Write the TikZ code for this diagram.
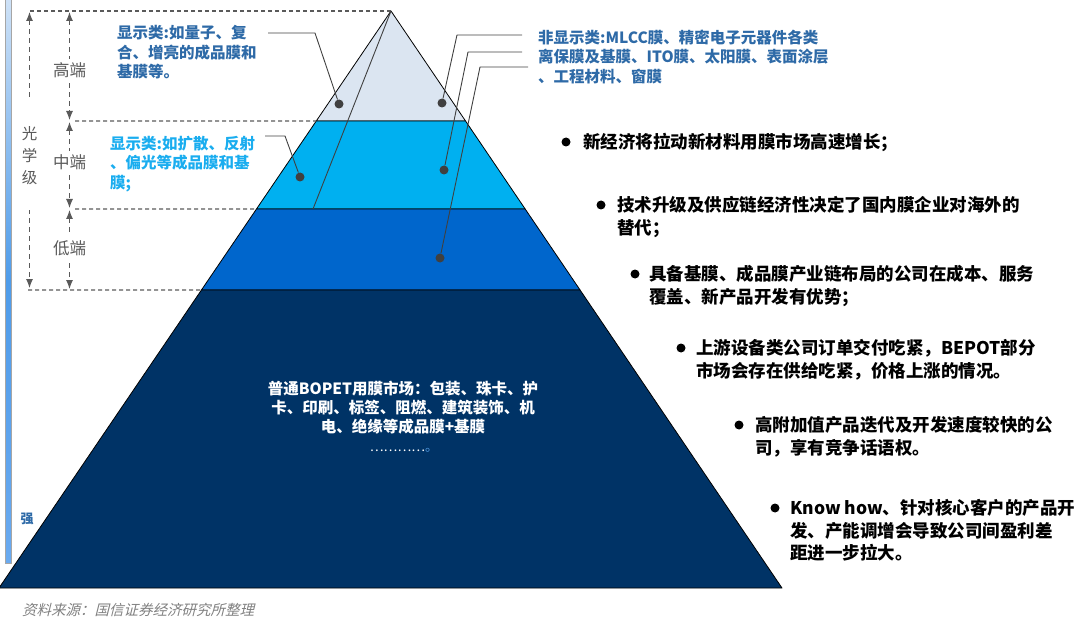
\documentclass[tikz,border=0pt]{standalone}
\usepackage{fontspec}
\setmainfont{Noto Sans CJK SC}
\newfontfamily\srcfont[FakeSlant=0.25]{Noto Sans CJK SC}
\usetikzlibrary{arrows.meta,calc}

\definecolor{topfill}{HTML}{DBE5F1}
\definecolor{midfill}{HTML}{00B0F0}
\definecolor{lowfill}{HTML}{0066CC}
\definecolor{basefill}{HTML}{003366}
\definecolor{dispblue}{HTML}{2E6AA7}
\definecolor{dispcyan}{HTML}{1AADEF}
\definecolor{guidegray}{HTML}{5A5A5A}
\definecolor{dotgray}{HTML}{404040}
\definecolor{bartop}{HTML}{CFE2F7}
\definecolor{barmid}{HTML}{4F9CEA}
\definecolor{barbot}{HTML}{6AAAF0}

\begin{document}
\begin{tikzpicture}[x=1pt,y=-1pt
	,>={Latex[length=9pt,width=7pt]}
	,line join=round
	]
  \tikzstyle{every node}=[inner sep=0pt]
  \tikzstyle{layer}=[draw=black,line width=0.8pt]
  \tikzstyle{guide}=[draw=guidegray,line width=1.1pt,dash pattern=on 4pt off 3pt]
  \tikzstyle{dimarrow}=[<->,draw=guidegray,line width=1.1pt,dash pattern=on 5pt off 4pt]
  \tikzstyle{level}=[fill=white,text=guidegray,inner sep=4pt
  ,font=\fontsize{16.5}{20}\selectfont]
  \tikzstyle{pdot}=[circle,fill=dotgray,minimum size=9pt]
  \tikzstyle{leader}=[draw=dotgray,line width=0.9pt]
  \tikzstyle{callout}=[anchor=north west,align=left
  ,font=\fontsize{15.5}{19.5}\selectfont\bfseries]
  \tikzstyle{bdot}=[circle,fill=black,minimum size=9pt]
  \tikzstyle{btext}=[anchor=north west,align=left
  ,font=\fontsize{17.5}{22.5}\selectfont\bfseries]

  \useasboundingbox (0,0) rectangle (1080,623);

  % strength bar
  \shade[top color=bartop,bottom color=barbot,middle color=barmid]
  (5,-2) rectangle (11,563);
  \draw[gray!70,line width=0.8pt] (5,-2) rectangle (11,563);
  \node[text=dispblue,font=\fontsize{13}{13}\selectfont\bfseries] (strong) at (27,519) {强};

  % pyramid
  \coordinate (apex) at (391,11);
  \coordinate (bl) at (-1,588);
  \coordinate (br) at (782,588);
  \coordinate (l1) at ($(apex)!0.1906!(bl)$);
  \coordinate (r1) at ($(apex)!0.1906!(br)$);
  \coordinate (l2) at ($(apex)!0.3432!(bl)$);
  \coordinate (r2) at ($(apex)!0.3432!(br)$);
  \coordinate (l3) at ($(apex)!0.4835!(bl)$);
  \coordinate (r3) at ($(apex)!0.4835!(br)$);

  \filldraw[layer,fill=topfill] (apex) -- (l1) -- (r1) -- cycle;
  \filldraw[layer,fill=midfill] (l1) -- (l2) -- (r2) -- (r1) -- cycle;
  \filldraw[layer,fill=lowfill] (l2) -- (l3) -- (r3) -- (r2) -- cycle;
  \filldraw[layer,fill=basefill] (l3) -- (bl) -- (br) -- (r3) -- cycle;

  % guides
  \coordinate (g0) at (30,11);
  \coordinate (g1) at (75,121);
  \coordinate (g2) at (75,209);
  \coordinate (g3) at (28,290);
  \draw[guide] (g0) -- (apex);
  \draw[guide] (g1) -- (l1);
  \draw[guide] (g2) -- (l2);
  \draw[guide] (g3) -- (l3);

  % levels
  \coordinate (hi0) at (69.5,12);
  \coordinate (hi1) at (69.5,120);
  \coordinate (mi0) at (69.5,122);
  \coordinate (mi1) at (69.5,208);
  \coordinate (lo0) at (69.5,210);
  \coordinate (lo1) at (69.5,289);
  \draw[dimarrow] (hi0) -- node[level,pos=0.54] (high) {高端} (hi1);
  \draw[dimarrow] (mi0) -- node[level,pos=0.47] (mid) {中端} (mi1);
  \draw[dimarrow] (lo0) -- node[level,pos=0.48] (low) {低端} (lo1);

  \coordinate (op0) at (29.5,12);
  \coordinate (op1) at (29.5,288);
  \draw[dimarrow] (op0) -- node[level,inner ysep=25pt,pos=0.52,align=center
  ,font=\fontsize{15.5}{22}\selectfont] (optic) {光\\学\\级} (op1);

  % callouts
  \node[callout,text=dispblue] (dispq) at (117,25.5)
  {显示类:如量子、复\\合、增亮的成品膜和\\基膜等。};
  \node[callout,text=dispcyan] (dispd) at (110,135.5)
  {显示类:如扩散、反射\\、偏光等成品膜和基\\膜;};
  \node[callout,text=dispblue] (nondisp) at (538,29.5)
  {非显示类:MLCC膜、精密电子元器件各类\\离保膜及基膜、ITO膜、太阳膜、表面涂层\\、工程材料、窗膜};

  \node[pdot] (dq) at (339,104) {};
  \node[pdot] (dd) at (300,177) {};
  \node[pdot] (nd1) at (442,103) {};
  \node[pdot] (nd2) at (444,170) {};
  \node[pdot] (nd3) at (440,258) {};

  \coordinate (qa) at (268,33);
  \coordinate (qb) at (315,33);
  \coordinate (da) at (265,136);
  \coordinate (db) at (285,136);
  \coordinate (na1) at (522,35);
  \coordinate (nb1) at (457,35);
  \coordinate (na2) at (522,52);
  \coordinate (nb2) at (468,52);
  \coordinate (na3) at (528,67);
  \coordinate (nb3) at (480,67);
  \coordinate (cut) at (313,209);

  \draw[leader] (qa) -- (qb) -- (dq);
  \draw[leader] (da) -- (db) -- (dd);
  \draw[leader] (na1) -- (nb1) -- (nd1);
  \draw[leader] (na2) -- (nb2) -- (nd2);
  \draw[leader] (na3) -- (nb3) -- (nd3);
  \draw[leader] (apex) -- (cut);

  % base text
  \node[align=center,text=white,font=\fontsize{15.5}{19}\selectfont\bfseries] (bopet) at (403,408)
  {普通BOPET用膜市场：包装、珠卡、护\\卡、印刷、标签、阻燃、建筑装饰、机\\电、绝缘等成品膜+基膜};
  \node[text=white,font=\fontsize{13}{13}\selectfont] (etc) at (404,450)
  {…………\textcolor{lowfill!70}{。}};

  % bullets
  \node[bdot] (b1) at (566,142) {};
  \node[btext] (t1) at (583,133) {新经济将拉动新材料用膜市场高速增长；};
  \node[bdot] (b2) at (601,205) {};
  \node[btext] (t2) at (617,196.5)
  {技术升级及供应链经济性决定了国内膜企业对海外的\\替代；};
  \node[bdot] (b3) at (635,274) {};
  \node[btext] (t3) at (649,265.5)
  {具备基膜、成品膜产业链布局的公司在成本、服务\\覆盖、新产品开发有优势；};
  \node[bdot] (b4) at (681,348) {};
  \node[btext] (t4) at (696,339.5)
  {上游设备类公司订单交付吃紧，BEPOT部分\\市场会存在供给吃紧，价格上涨的情况。};
  \node[bdot] (b5) at (739,425) {};
  \node[btext] (t5) at (755,416.5)
  {高附加值产品迭代及开发速度较快的公\\司，享有竞争话语权。};
  \node[bdot] (b6) at (775,508) {};
  \node[btext] (t6) at (790,499.5)
  {Know how、针对核心客户的产品开\\发、产能调增会导致公司间盈利差\\距进一步拉大。};

  % source
  \node[anchor=west,text=gray,font=\srcfont\fontsize{14.5}{16}\selectfont] (src) at (22,610)
  {资料来源：国信证券经济研究所整理};
\end{tikzpicture}
\end{document}
